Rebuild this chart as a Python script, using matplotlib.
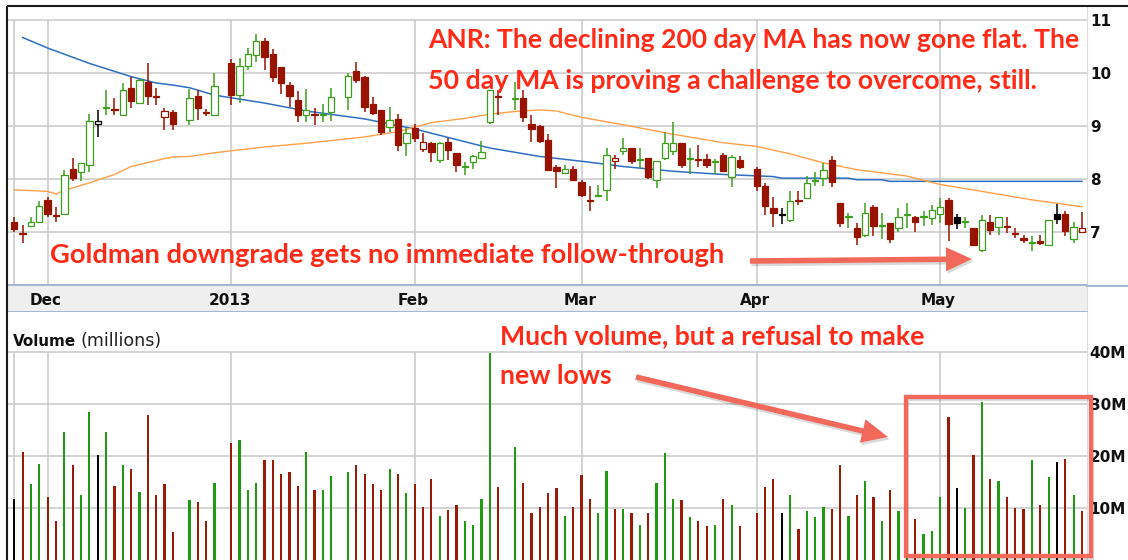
import numpy as np
import pandas as pd
import matplotlib
matplotlib.use("Agg")
import matplotlib.pyplot as plt
from matplotlib.patches import Rectangle, Polygon

plt.rcParams['font.family'] = ['DejaVu Sans']

# ---------------- data ----------------
first_day, last_day = "2012-11-27", "2013-05-24"
holidays = ["2012-12-25", "2013-01-01", "2013-01-21", "2013-02-18", "2013-03-29"]

opens = [7.19, 6.98, 7.11, 7.18, 7.60, 7.32, 7.33, 8.18, 8.12, 8.26,
         9.03, 9.34, 9.32, 9.21, 9.72, 9.44, 9.83, 9.57, 9.17, 9.26,
         9.11, 9.56, 9.26, 9.20,
         10.18, 9.58, 10.13, 10.33, 10.60, 10.36, 10.11, 9.77, 9.48, 9.21, 9.22, 9.20, 9.26,
         9.55, 10.03, 9.92, 9.42, 9.30, 8.98, 9.13, 8.67, 8.95, 8.57, 8.67, 8.35, 8.70, 8.48,
         8.22, 8.31, 8.40, 9.08, 9.56,
         9.51, 9.52, 9.04, 8.99, 8.74, 8.23, 8.11, 8.19, 7.94, 7.59, 7.68, 7.79, 8.33, 8.52,
         8.58, 8.35, 8.40, 7.98, 8.39, 8.52, 8.67, 8.38, 8.37, 8.37, 8.31, 8.44, 8.03, 8.35,
         8.19, 7.86, 7.45, 7.33, 7.22, 7.59, 7.64, 7.95, 8.01, 8.35, 7.54, 7.28, 7.06, 6.94,
         7.46, 7.11, 7.16, 7.07, 7.32, 7.28, 7.27, 7.25, 7.33, 7.60, 7.28, 7.18, 7.06, 6.65,
         7.19, 7.09, 7.10, 6.98, 6.87, 6.78, 6.83, 6.75, 7.33, 7.33, 6.86, 6.99]
highs = [7.28, 7.13, 7.27, 7.58, 7.66, 7.47, 8.16, 8.40, 8.30, 9.23,
         9.29, 9.68, 9.52, 9.80, 9.92, 9.88, 10.18, 9.72, 9.33, 9.30,
         9.69, 9.67, 9.31, 9.99,
         10.26, 10.28, 10.47, 10.74, 10.66, 10.46, 10.11, 9.83, 9.65, 9.69, 9.33, 9.42, 9.72,
         9.99, 10.21, 9.95, 9.55, 9.30, 9.36, 9.23, 8.95, 9.04, 8.86, 8.70, 8.70, 8.77, 8.48,
         8.32, 8.45, 8.71, 9.68, 9.67,
         9.83, 9.67, 9.20, 9.01, 8.84, 8.26, 8.26, 8.24, 7.98, 7.86, 7.89, 8.58, 8.44, 8.77,
         8.58, 8.58, 8.40, 8.33, 8.88, 9.07, 8.67, 8.58, 8.63, 8.47, 8.38, 8.48, 8.45, 8.42,
         8.23, 7.92, 7.65, 7.45, 7.77, 7.77, 8.05, 8.13, 8.29, 8.43, 7.54, 7.36, 7.16, 7.54,
         7.50, 7.35, 7.16, 7.44, 7.54, 7.29, 7.38, 7.50, 7.64, 7.63, 7.33, 7.28, 7.06, 7.31,
         7.31, 7.28, 7.28, 7.06, 6.94, 6.91, 6.94, 7.22, 7.52, 7.38, 7.19, 7.37]
lows = [7.00, 6.78, 7.09, 7.18, 7.28, 7.18, 7.31, 7.96, 7.96, 8.13,
        8.79, 9.21, 9.21, 9.21, 9.34, 9.44, 9.40, 9.40, 8.92, 8.92,
        9.01, 9.11, 9.18, 9.20,
        9.40, 9.44, 10.05, 10.21, 10.05, 9.83, 9.61, 9.36, 9.08, 9.08, 9.01, 9.08, 9.09,
        9.30, 9.80, 9.26, 9.20, 8.82, 8.89, 8.52, 8.42, 8.70, 8.51, 8.32, 8.29, 8.35, 8.13,
        8.07, 8.19, 8.37, 9.04, 9.21,
        9.30, 9.08, 8.70, 8.68, 8.15, 7.83, 8.11, 7.96, 7.66, 7.38, 7.67, 7.57, 8.19, 8.45,
        8.27, 8.20, 7.99, 7.82, 8.36, 8.45, 8.20, 8.09, 8.23, 8.20, 8.08, 8.12, 7.84, 8.18,
        7.77, 7.32, 7.08, 7.14, 7.18, 7.50, 7.62, 7.87, 7.87, 7.84, 7.08, 7.06, 6.75, 6.89,
        6.91, 6.86, 6.78, 7.00, 7.06, 7.00, 7.11, 7.13, 7.16, 6.82, 7.05, 7.06, 6.72, 6.62,
        6.94, 6.94, 6.97, 6.87, 6.78, 6.64, 6.75, 6.75, 7.14, 6.92, 6.78, 6.99]
closes = [7.05, 6.96, 7.19, 7.49, 7.33, 7.30, 8.07, 8.02, 8.30, 9.09,
          9.09, 9.36, 9.30, 9.67, 9.47, 9.86, 9.56, 9.55, 9.28, 9.04,
          9.52, 9.34, 9.24, 9.75,
          9.58, 10.13, 10.36, 10.60, 10.30, 9.92, 9.80, 9.57, 9.20, 9.30, 9.20, 9.22, 9.55,
          9.94, 9.86, 9.36, 9.25, 8.89, 9.11, 8.64, 8.86, 8.76, 8.70, 8.51, 8.67, 8.54, 8.26,
          8.24, 8.42, 8.51, 9.67, 9.54,
          9.53, 9.17, 8.94, 8.72, 8.17, 8.15, 8.19, 7.98, 7.70, 7.57, 7.70, 8.44, 8.40, 8.58,
          8.33, 8.37, 8.04, 8.33, 8.67, 8.67, 8.26, 8.40, 8.35, 8.26, 8.33, 8.14, 8.41, 8.23,
          7.87, 7.48, 7.35, 7.31, 7.58, 7.57, 7.92, 7.97, 8.16, 7.93, 7.16, 7.30, 6.89, 7.35,
          7.10, 7.13, 6.86, 7.28, 7.34, 7.19, 7.29, 7.41, 7.47, 7.14, 7.16, 7.20, 6.75, 7.22,
          7.03, 7.28, 7.08, 6.96, 6.85, 6.80, 6.79, 7.22, 7.24, 7.01, 7.09, 7.06]
candle_colors = ("rrggrrgrggkgrgrgrrrr" "grrg" "rgggrrrrrgrgg" "grrrrgrgrrrgrrggggr"
                 "grrrrrgrrrggrgrgrgggrgrrgrgr" "rrrkgrgggrrgrgrgrggrgggrkgrgrgrrrgrgkrgr")

volumes = [11.8, 20.8, 14.5, 18.5, 12.1, 7.5, 24.5, 18.2, 12.4, 28.5,
           20.1, 24.5, 14.2, 18.2, 17.5, 13.1, 27.8, 12.4, 14.5, 5.4,
           11.5, 11.2, 7.5, 14.8,
           22.5, 23.1, 13.5, 14.8, 19.2, 19.2, 16.5, 16.9, 14.2, 20.8, 13.5, 13.5, 16.2,
           16.8, 18.2, 16.5, 14.5, 13.5, 17.5, 16.5, 12.8, 14.5, 10.1, 15.5, 8.4, 9.6, 10.5,
           7.4, 6.8, 11.8, 39.8, 14.0,
           21.7, 14.8, 9.1, 10.1, 12.8, 13.8, 8.4, 10.1, 16.4, 11.7, 9.1, 17.1, 9.8, 9.8,
           9.1, 6.8, 9.1, 14.8, 20.5, 11.7, 11.5, 8.2, 7.4, 6.5, 6.8, 11.7, 10.5, 6.5,
           9.1, 14.0, 15.5, 9.1, 12.4, 6.0, 9.4, 8.2, 10.1, 9.8, 18.2, 8.5, 12.4, 15.1,
           12.1, 7.5, 13.5, 9.4, 8.0, 7.8, 5.0, 5.6, 12.1, 27.5, 13.8, 10.0, 20.1, 30.4,
           15.5, 15.1, 12.1, 10.0, 9.8, 19.2, 10.5, 16.0, 18.8, 19.4, 12.4, 9.4]
volume_colors = "k" + candle_colors[1:]

# moving averages: (trading-day number, value)
ma200_days = [1, 4, 9, 14, 17, 19, 20, 23, 28, 33, 39, 45, 50, 54, 59, 64, 69, 75, 81,
              86, 87, 95, 96, 99, 100, 123]
ma200_vals = [10.67, 10.47, 10.18, 9.93, 9.81, 9.77, 9.72, 9.58, 9.43, 9.28, 9.13, 8.94,
              8.74, 8.58, 8.42, 8.33, 8.23, 8.14, 8.08, 8.04, 8.01, 8.01, 7.98, 7.98, 7.95, 7.95]
ma50_days = [0, 4, 5, 6, 9, 12, 14, 18, 19, 20, 23, 28, 33, 36, 39, 43, 47, 51, 54, 56,
             59, 61, 64, 69, 75, 81, 84, 88, 92, 96, 100, 102, 106, 111, 117, 123]
ma50_vals = [7.79, 7.76, 7.71, 7.78, 7.92, 8.08, 8.23, 8.38, 8.41, 8.42, 8.49, 8.60, 8.67,
             8.72, 8.79, 8.89, 9.06, 9.14, 9.22, 9.27, 9.30, 9.28, 9.16, 9.02, 8.84, 8.68,
             8.61, 8.47, 8.30, 8.17, 8.09, 8.05, 7.89, 7.76, 7.60, 7.47]

price_ticks = [7, 8, 9, 10, 11]
volume_ticks = [10, 20, 30, 40]
volume_tick_labels = ["10M", "20M", "30M", "40M"]
month_labels = ["Dec", "2013", "Feb", "Mar", "Apr", "May"]

note_top_1 = "ANR: The declining 200 day MA has now gone flat. The"
note_top_2 = "50 day MA is proving a challenge to overcome, still."
note_mid = "Goldman downgrade gets no immediate follow-through"
note_vol_1 = "Much volume, but a refusal to make"
note_vol_2 = "new lows"

# ---------------- layout ----------------
W, H = 1128, 560
fig = plt.figure(figsize=(W / 100, H / 100), dpi=100)
fig.patch.set_facecolor("white")


def px_axes(x0, y0, x1, y1, **kw):
    return fig.add_axes([x0 / W, 1 - y1 / H, (x1 - x0) / W, (y1 - y0) / H], **kw)


ax_p = px_axes(7, 6, 1087, 285)
ax_s = px_axes(7, 285, 1087, 312)
ax_v = px_axes(7, 312, 1087, 560)

weekdays = pd.bdate_range(first_day, last_day)
dates = weekdays.drop(pd.to_datetime(holidays))
xpos = weekdays.get_indexer(dates).astype(float)
xlim = (-0.875, 128.6)

cmap = {"g": "#3c9f1c", "r": "#971300", "k": "#000000"}
vmap = {"g": "#1f9b12", "r": "#9b1a08", "k": "#000000"}
grid_c = "#c9c9c9"

month_idx = [i for i in range(len(dates)) if i == 0 or dates[i].month != dates[i - 1].month]
month_x = xpos[month_idx]

# ---- price panel ----
O, Hh, L, C = (np.array(a) for a in (opens, highs, lows, closes))
ccol = [cmap[c] for c in candle_colors]
ax_p.set_xlim(*xlim)
ax_p.set_ylim(5.99, 11.265)
ax_p.hlines(price_ticks, xlim[0], xlim[1], color=grid_c, lw=1.1, zorder=1)
ax_p.vlines(month_x, 5.99, 11, color=grid_c, lw=1.1, zorder=1)
ax_p.plot(xpos[ma200_days], ma200_vals, color="#2f6fbf", lw=1.1, zorder=2)
ax_p.plot(xpos[ma50_days], ma50_vals, color="#ffa04a", lw=1.0, zorder=2)
ax_p.vlines(xpos, L, Hh, colors=ccol, lw=1.1, zorder=3)
body_lo = np.minimum(O, C)
body_h = np.maximum(np.abs(C - O), 0.012)
faces = [col if c < o else "white" for col, o, c in zip(ccol, O, C)]
ax_p.bar(xpos, body_h, bottom=body_lo, width=0.76, color=faces, edgecolor=ccol,
         linewidth=0.9, zorder=4)
ax_p.set_xticks([])
ax_p.yaxis.tick_right()
ax_p.set_yticks(price_ticks)
ax_p.set_yticklabels([str(t) for t in price_ticks], fontweight="bold", fontsize=11)
ax_p.tick_params(axis="y", length=0, pad=2.5, colors="#111111")
for s in ("top", "left", "bottom"):
    ax_p.spines[s].set_visible(False)
ax_p.spines["right"].set_color("#dddddd")

# ---- date strip ----
ax_s.set_xlim(*xlim)
ax_s.set_ylim(0, 1)
ax_s.set_facecolor("#efefef")
ax_s.set_xticks([])
ax_s.set_yticks([])
ax_s.spines["left"].set_visible(False)
ax_s.spines["right"].set_color("#dddddd")
for s in ("top", "bottom"):
    ax_s.spines[s].set_color("#a3b4d4")
    ax_s.spines[s].set_linewidth(1.4)
for xm, lab in zip(month_x[1:], month_labels):
    ax_s.text(xm - 0.2, 0.44, lab, ha="center", va="center", fontsize=11,
              fontweight="bold", color="#111111")

# ---- volume panel ----
ax_v.set_xlim(*xlim)
ax_v.set_ylim(0, 47.6)
ax_v.hlines(volume_ticks, xlim[0], xlim[1], color=grid_c, lw=1.1, zorder=1)
ax_v.vlines(month_x, 0, 40, color=grid_c, lw=1.1, zorder=1)
ax_v.bar(xpos, volumes, width=0.27, color=[vmap[c] for c in volume_colors], zorder=3)
ax_v.set_xticks([])
ax_v.yaxis.tick_right()
ax_v.set_yticks(volume_ticks)
ax_v.set_yticklabels(volume_tick_labels, fontweight="bold", fontsize=11)
ax_v.tick_params(axis="y", length=0, pad=2.0, colors="#111111")
for s in ("top", "left", "bottom"):
    ax_v.spines[s].set_visible(False)
ax_v.spines["right"].set_color("#dddddd")

# ---- overlay for annotations ----
ov = fig.add_axes([0, 0, 1, 1], zorder=10)
ov.set_xlim(0, W)
ov.set_ylim(H, 0)
ov.axis("off")
ov.patch.set_alpha(0)

ov.plot([7, 7], [6, H], color="#1a1a1a", lw=1.5, solid_capstyle="butt")
ov.plot([7, W], [6, 6], color="#1a1a1a", lw=1.5, solid_capstyle="butt")
ov.plot([1087, W], [285.5, 285.5], color="#a3b4d4", lw=1.4)

renderer = fig.canvas.get_renderer()


def fit_text(x, y, s, width, size0=16, **kw):
    t = ov.text(x, y, s, fontsize=size0, ha="left", va="baseline", clip_on=False, **kw)
    w = t.get_window_extent(renderer=renderer).width
    t.set_fontsize(size0 * width / w)
    return t


red = "#ff2a17"
tkw = dict(color=red, family=["Lato", "DejaVu Sans"], fontweight="bold")
fit_text(428, 48.5, note_top_1, 652, **tkw)
fit_text(428, 89, note_top_2, 612, **tkw)
fit_text(50, 263, note_mid, 677, **tkw)
fit_text(500, 344, note_vol_1, 425, **tkw)
fit_text(500, 384, note_vol_2, 112, **tkw)

fit_text(13, 346, "Volume", 63, size0=10, fontweight="bold", color="#111111")
fit_text(81, 346, "(millions)", 81, size0=10, color="#222222")

acol = "#f2695b"


def arrow(x0, y0, x1, y1, shaft=5.5, head_len=26, head_w=24):
    d = np.array([x1 - x0, y1 - y0], float)
    u = d / np.hypot(*d)
    n = np.array([-u[1], u[0]])
    p0 = np.array([x0, y0], float)
    p1 = np.array([x1, y1], float)
    b = p1 - u * head_len
    pts = [p0 + n * shaft / 2, b + n * shaft / 2, b + n * head_w / 2, p1,
           b - n * head_w / 2, b - n * shaft / 2, p0 - n * shaft / 2]
    sh = [p + np.array([1.5, 2.5]) for p in pts]
    ov.add_patch(Polygon(sh, closed=True, fc="black", alpha=0.15, ec="none"))
    ov.add_patch(Polygon(pts, closed=True, fc=acol, ec="none"))


arrow(750, 261, 972, 259)
arrow(636, 377, 888, 437)

ov.add_patch(Rectangle((907, 399), 185, 159, fill=False, ec="black", alpha=0.15, lw=3.1))
ov.add_patch(Rectangle((905.5, 397), 185, 159, fill=False, ec=acol, lw=3.1))

fig.savefig("out.png", dpi=100)
